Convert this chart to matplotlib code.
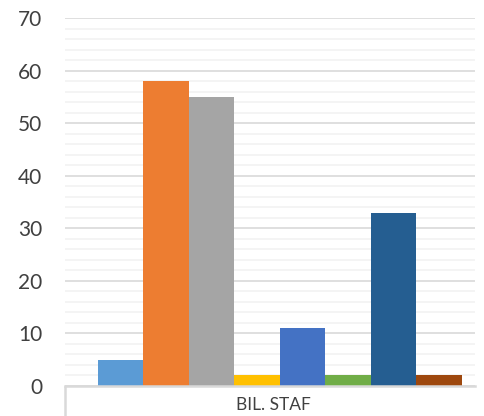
import numpy as np
import matplotlib
matplotlib.use('Agg')
import matplotlib.pyplot as plt
from matplotlib.ticker import MultipleLocator

category = 'BIL. STAF'
values = [5, 58, 55, 2, 11, 2, 33, 2]
colors = ['#5B9BD5', '#ED7D31', '#A5A5A5', '#FFC000',
          '#4472C4', '#70AD47', '#255E91', '#9E480E']
y_ticks = [0, 10, 20, 30, 40, 50, 60, 70]

plt.rcParams['font.family'] = ['Lato', 'DejaVu Sans']

fig = plt.figure(figsize=(4.85, 4.16), dpi=100)
ax = fig.add_axes([65 / 485, 30 / 416, 410 / 485, 368 / 416])

x = np.arange(len(values))
ax.bar(x, values, width=1.0, color=colors, zorder=3)

ax.set_ylim(0, 70)
ax.set_xlim(-1.225, 7.786)
ax.set_yticks(y_ticks)
ax.yaxis.set_minor_locator(MultipleLocator(2))
ax.grid(axis='y', which='major', color='#D9D9D9', linewidth=1.2, zorder=0)
ax.grid(axis='y', which='minor', color='#F2F2F2', linewidth=1.2, zorder=0)

for side in ['top', 'right', 'left']:
    ax.spines[side].set_visible(False)
ax.spines['bottom'].set_color('#D9D9D9')
ax.spines['bottom'].set_linewidth(1.8)
ax.spines['bottom'].set_zorder(4)

ax.tick_params(axis='y', which='both', length=0, pad=16.5,
               labelsize=15, labelcolor='#404040')

# category axis: one label, tick mark at left boundary
ax.set_xticks([-1.225], minor=True)
ax.set_xticks([(ax.get_xlim()[0] + ax.get_xlim()[1]) / 2 + 0.08])
ax.set_xticklabels([category])
ax.tick_params(axis='x', which='major', length=0, pad=8,
               labelsize=12.5, labelcolor='#404040')
ax.tick_params(axis='x', which='minor', length=32, width=1.8,
               color='#D9D9D9', direction='out')

fig.savefig('out.png', dpi=100)
